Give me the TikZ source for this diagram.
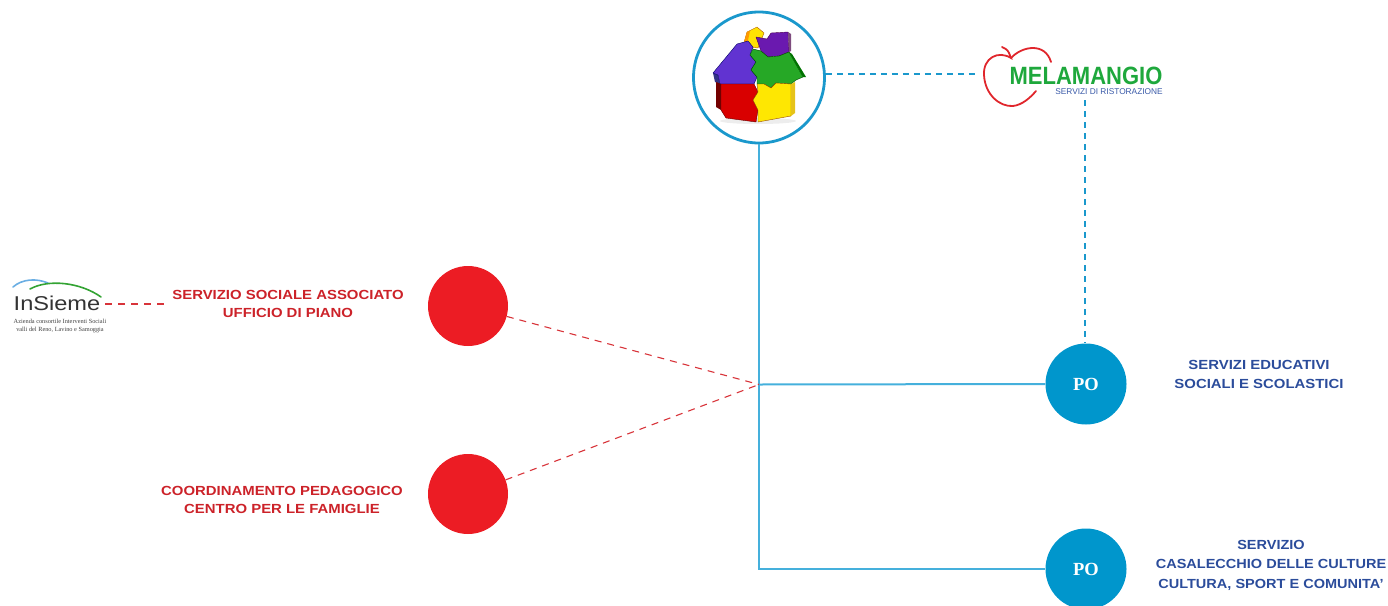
\documentclass[tikz,border=0pt]{standalone}
\usepackage{fontspec}
\usepackage{graphicx}
\setmainfont{Liberation Sans}
\newfontfamily\serifface{Liberation Serif}
\definecolor{ballred}{HTML}{EC1C24}
\definecolor{labelred}{HTML}{CC2229}
\definecolor{labelblue}{HTML}{2B4C9B}
\definecolor{poblue}{HTML}{0096CC}
\definecolor{linkblue}{HTML}{45B0DC}
\definecolor{ringblue}{HTML}{1A98CC}
\definecolor{dashred}{HTML}{D8343A}
\definecolor{melagreen}{HTML}{1EA83C}
\definecolor{melablue}{HTML}{3A5AA8}
\definecolor{applered}{HTML}{E0262C}
% wide heavy caption lines
\newcommand{\widelines}[2][1.13]{\scalebox{#1}[1]{\begin{tabular}{@{}c@{}}#2\end{tabular}}}
\tikzset{
  redlabel/.style={text=labelred, inner sep=0pt,
    font=\bfseries\fontsize{13.2}{18.5}\selectfont},
  bluelabel/.style={text=labelblue, inner sep=0pt,
    font=\bfseries\fontsize{13.2}{19.5}\selectfont},
  redball/.style={circle, fill=ballred, minimum size=80pt, inner sep=0pt},
  poball/.style={circle, fill=poblue, minimum size=81pt, inner sep=0pt,
    text=white, font=\serifface\bfseries\fontsize{18.5}{18.5}\selectfont},
  blueline/.style={draw=linkblue, line width=2pt},
  bluedash/.style={draw=ringblue, line width=1.1pt, dash pattern=on 6pt off 5pt},
  reddash/.style={draw=dashred, line width=1.1pt, dash pattern=on 7pt off 6pt},
  piece/.style={line width=0.4pt, line join=round},
}
\begin{document}
\begin{tikzpicture}[x=1pt, y=-1pt]
\useasboundingbox (0,0) rectangle (1388,605);

% ---------- puzzle house in a ring ----------
\node[circle, draw=ringblue, line width=2.8pt, minimum size=131pt, inner sep=0pt] (house) at (759,77.5) {};
\begin{scope}
  % soft floor shadow
  \fill[black!7] (758,121) ellipse (38pt and 3pt);
  % yellow top piece
  \fill[piece, fill=yellow!85!orange, draw=orange!70!black] (743,46) -- (747,32) -- (757,27) -- (764,33) -- (758,48) -- cycle;
  \fill[orange!80!yellow] (743,46) -- (747,32) -- (750,31) -- (747,45) -- cycle;
  % purple piece
  \fill[piece, fill=violet!70!blue!90, draw=violet!60!black] (756,37) -- (767,39) -- (771,33) -- (788,32) -- (789,52) -- (779,56) -- (768,57) -- (761,51) -- cycle;
  \fill[violet!55!black!70] (788,32) -- (791,34) -- (791,51) -- (789,52) -- cycle;
  % blue piece (left roof)
  \fill[blue!40!black!80] (713,73) -- (718,75) -- (720,84) -- (715,82) -- cycle;
  \fill[piece, fill=blue!55!violet!80, draw=blue!40!black] (713,73) -- (737,44) -- (748,41) -- (753,47) -- (750,55) -- (756,62) -- (751,70) -- (757,77) -- (754,84) -- (720,84) -- (718,75) -- cycle;
  % green piece (right roof)
  \fill[piece, fill=green!60!black!85, draw=green!30!black] (761,51) -- (768,57) -- (779,56) -- (789,52) -- (803,77) -- (796,80) -- (791,84) -- (776,83) -- (771,88) -- (764,84) -- (757,84) -- (757,77) -- (751,70) -- (756,62) -- (750,55) -- (753,49) -- cycle;
  \fill[green!45!black] (789,52) -- (792,54) -- (806,77) -- (803,77) -- cycle;
  % red piece (lower left)
  \fill[red!45!black] (716,82) -- (721,84) -- (721,110) -- (716,107) -- cycle;
  \fill[piece, fill=red!85!black, draw=red!40!black] (721,84) -- (754,84) -- (758,92) -- (753,100) -- (758,110) -- (756,122) -- (726,118) -- (721,110) -- cycle;
  % yellow piece (lower right)
  \fill[piece, fill=yellow!90!orange, draw=orange!60!black] (757,84) -- (764,84) -- (771,88) -- (776,83) -- (791,84) -- (791,116) -- (758,122) -- (758,110) -- (753,100) -- (758,92) -- cycle;
  \fill[yellow!70!orange!90!black] (791,84) -- (795,82) -- (795,113) -- (791,116) -- cycle;
\end{scope}

% ---------- Melamangio logo ----------
\coordinate (melaL) at (976,74);
\coordinate (melaB) at (1085,100);
\draw[applered, line width=1.8pt, line cap=round]
  (1002,47) .. controls (1008,50) .. (1011,58)
  .. controls (998,50) and (983,58) .. (984,75)
  .. controls (985,95) and (1000,107) .. (1013,106)
  .. controls (1022,105) and (1030,98) .. (1036,91);
\draw[applered, line width=1.8pt, line cap=round]
  (1011,58) .. controls (1022,46) and (1045,42) .. (1051,62);
\node[inner sep=0pt, text=melagreen, font=\bfseries\fontsize{25}{25}\selectfont] (melaname) at (1086,76) {\scalebox{0.88}[1]{MELAMANGIO}};
\node[inner sep=0pt, text=melablue, font=\fontsize{8.4}{8.4}\selectfont] (melasub) at (1109,92) {\scalebox{0.99}[1]{SERVIZI DI RISTORAZIONE}};

% ---------- InSieme logo ----------
\draw[cyan!70!blue!60, line width=1.6pt, line cap=round] (13,287) .. controls (22,279) and (36,278) .. (48,283);
\draw[green!55!black!80, line width=1.6pt, line cap=round] (30,289) .. controls (48,279) and (80,282) .. (101,297);
\node[inner sep=0pt, text=black!80, font=\fontsize{20}{20}\selectfont] (insieme) at (57,303) {\scalebox{1.18}[1]{InSieme}};
\node[inner sep=0pt, align=center, text=black!75, font=\serifface\fontsize{6.3}{7.8}\selectfont] (insiemesub) at (60,326) {Azienda consortile Interventi Sociali\\valli del Reno, Lavino e Samoggia};
\coordinate (insR) at (105,304);
\coordinate (insEnd) at (165,304);

% ---------- red services ----------
\node[redball] (rb1) at (468,306) {};
\node[redball] (rb2) at (468,494) {};
\node[redlabel] (ssa) at (288,305) {\widelines{SERVIZIO SOCIALE ASSOCIATO\\UFFICIO DI PIANO}};
\node[redlabel] (cped) at (282,501) {\widelines{COORDINAMENTO PEDAGOGICO\\CENTRO PER LE FAMIGLIE}};

% ---------- PO units ----------
\node[poball] (po1) at (1086,384) {PO};
\node[poball] (po2) at (1086,569) {PO};
\node[bluelabel] (sedu) at (1259,375) {\widelines{SERVIZI EDUCATIVI\\SOCIALI E SCOLASTICI}};
\node[bluelabel] (scult) at (1271,565) {\widelines[1.1]{SERVIZIO\\CASALECCHIO DELLE CULTURE\\CULTURA, SPORT E COMUNITA'}};

% ---------- connectors ----------
\coordinate (hub) at (759,384.5);
\coordinate (corner) at (759,569);
\draw[blueline] (house.south) -- (corner) -- (po2.west);
\draw[blueline] (hub) -- (po1.west);
\draw[bluedash] (house.east |- melaL) -- (melaL);
\draw[bluedash] (melaB) -- (melaB |- po1.north);
\draw[reddash] (rb1) -- (hub);
\draw[reddash] (rb2) -- (hub);
\draw[reddash] (insR) -- (insEnd);
\end{tikzpicture}
\end{document}
